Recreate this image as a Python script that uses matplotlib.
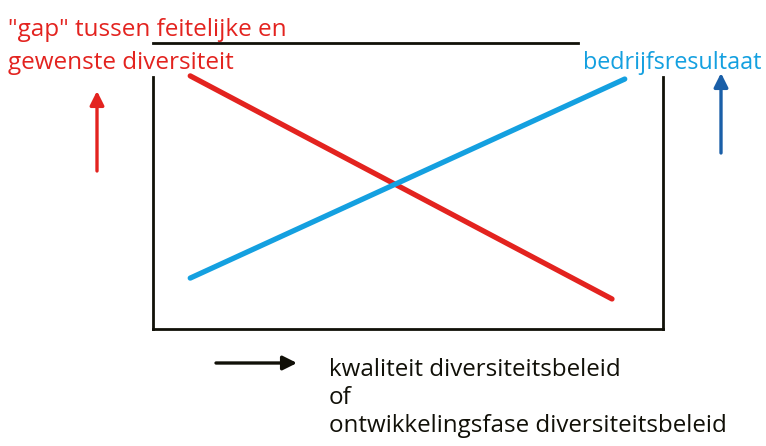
import matplotlib
matplotlib.use("Agg")
import matplotlib.pyplot as plt

# Data (normalized 0-10 scale)
gap_x = [0.73, 9.0]
gap_y = [8.85, 1.05]
result_x = [0.73, 9.25]
result_y = [1.78, 8.74]

title_red = ['"gap" tussen feitelijke en', 'gewenste diversiteit']
title_blue = 'bedrijfsresultaat'
xlabel_lines = ['kwaliteit diversiteitsbeleid', 'of', 'ontwikkelingsfase diversiteitsbeleid']

RED = '#e3231f'
BLUE = '#14a0e0'
DARKBLUE = '#1a5fa8'
BLACK = '#111008'
FONT = 'Open Sans'

W, H = 766, 446
fig = plt.figure(figsize=(W / 100, H / 100), dpi=100)

def fx(px):
    return px / W

def fy(py):
    return 1 - py / H

ax = fig.add_axes([fx(153), fy(329), fx(663) - fx(153), fy(43) - fy(329)])
ax.set_xlim(0, 10)
ax.set_ylim(0, 10)
ax.set_xticks([])
ax.set_yticks([])
ax.spines['top'].set_visible(False)
for s in ['left', 'right', 'bottom']:
    ax.spines[s].set_color(BLACK)
    ax.spines[s].set_linewidth(2.0)
ax.spines['left'].set_bounds(0, 8.81)
ax.spines['right'].set_bounds(0, 8.81)
ax.axhline(10, xmin=0, xmax=0.833, color=BLACK, lw=2.0, clip_on=False)

ax.plot(gap_x, gap_y, color=RED, lw=3.8, solid_capstyle='round')
ax.plot(result_x, result_y, color=BLUE, lw=3.8, solid_capstyle='round')

# Texts
fig.text(fx(8), fy(36), title_red[0], color=RED, fontsize=17.5,
         family=FONT, ha='left', va='baseline')
fig.text(fx(8), fy(69), title_red[1], color=RED, fontsize=17.5,
         family=FONT, ha='left', va='baseline')
fig.text(fx(583), fy(69), title_blue, color=BLUE, fontsize=16.8,
         family=FONT, ha='left', va='baseline')
for i, line in enumerate(xlabel_lines):
    fig.text(fx(329), fy(376 + 28 * i), line, color=BLACK, fontsize=17.4,
             family=FONT, ha='left', va='baseline')

# Arrows
def arrow(x0, y0, x1, y1, color):
    fig.add_artist(matplotlib.patches.FancyArrowPatch(
        (fx(x0), fy(y0)), (fx(x1), fy(y1)), transform=fig.transFigure,
        arrowstyle='-|>,head_length=0.6,head_width=0.3', mutation_scale=14,
        color=color, lw=2.4, shrinkA=0, shrinkB=0))

arrow(97, 171, 97, 91, RED)
arrow(721, 153, 721, 73, DARKBLUE)
arrow(216, 363, 297, 363, BLACK)

fig.savefig('out.png', dpi=100)
